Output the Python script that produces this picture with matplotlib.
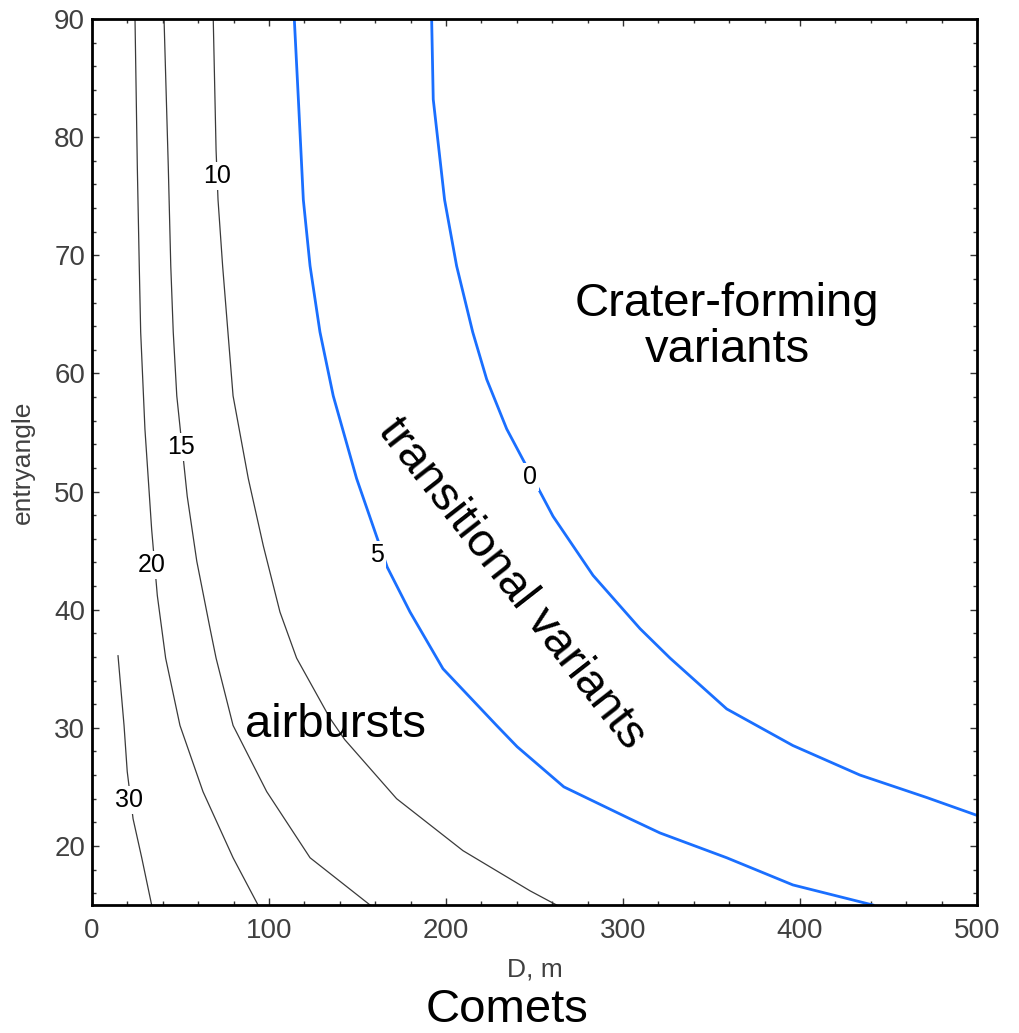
import matplotlib
matplotlib.use("Agg")
import matplotlib.pyplot as plt
from matplotlib.ticker import MultipleLocator

plt.rcParams['font.family'] = ['Liberation Sans', 'DejaVu Sans']

# Contour lines: (D in m, entry angle in deg)
c30_D = [14.7, 18.1, 19.9, 23.2, 28.1, 33.7]
c30_a = [36.1, 30.2, 26.3, 22.3, 19.0, 15.0]

c20_D = [24.3, 25.6, 26.7, 27.5, 29.9, 33.7, 36.9, 41.6, 49.7, 62.7, 79.7, 93.8]
c20_a = [90.0, 77.5, 69.1, 63.5, 55.3, 46.8, 41.2, 35.9, 30.2, 24.6, 19.0, 15.0]

c15_D = [40.7, 43.1, 44.5, 45.9, 47.9, 53.8, 59.2, 66.7, 70.1, 79.7, 98.7, 123.2, 157.1]
c15_a = [90.0, 77.5, 69.1, 63.5, 58.1, 49.6, 44.1, 38.4, 35.9, 30.2, 24.6, 19.0, 15.0]

c10_D = [68.5, 70.1, 71.2, 73.8, 76.8, 79.7, 88.3, 96.8, 106.2, 115.6, 134.5, 142.8, 172.1, 209.6, 247.5, 262.5]
c10_a = [90.0, 78.9, 74.7, 69.1, 63.5, 58.1, 51.1, 45.4, 39.8, 35.9, 30.8, 29.0, 24.0, 19.6, 16.2, 15.0]

c5_D = [114.3, 116.6, 119.4, 123.2, 128.8, 136.3, 149.5, 166.8, 179.7, 198.3, 228.6, 240.2, 266.6, 303.9, 320.9, 358.6, 396.0, 441.2]
c5_a = [90.0, 83.2, 74.7, 69.1, 63.5, 58.1, 51.1, 43.6, 39.8, 35.0, 30.2, 28.4, 25.0, 22.3, 21.1, 19.0, 16.7, 15.0]

c0_D = [191.9, 192.8, 199.2, 206.0, 215.1, 223.0, 234.3, 260.5, 283.1, 309.6, 326.6, 358.6, 396.0, 433.9, 471.6, 499.8]
c0_a = [90.0, 83.2, 74.7, 69.1, 63.5, 59.5, 55.3, 47.9, 42.9, 38.4, 35.9, 31.6, 28.5, 26.0, 24.1, 22.6]

# Contour label texts and their positions
level_labels = ["30", "20", "15", "10", "5", "0"]
label_D = [20.9, 33.9, 50.3, 70.6, 161.0, 247.5]
label_a = [23.9, 43.8, 53.8, 76.7, 44.6, 51.2]

x_ticks = [0, 100, 200, 300, 400, 500]
y_ticks = [20, 30, 40, 50, 60, 70, 80, 90]

BLUE = '#1a6fff'
GREY = '#3a3a3a'

fig = plt.figure(figsize=(10.2, 10.33), dpi=100)
ax = fig.add_axes([0.0902, 0.1239, 0.8676, 0.8577])

black_lines = [(c30_D, c30_a), (c20_D, c20_a), (c15_D, c15_a), (c10_D, c10_a)]
for xd, yd in black_lines:
    ax.plot(xd, yd, color=GREY, lw=0.9, solid_joinstyle='round')
for xd, yd in [(c5_D, c5_a), (c0_D, c0_a)]:
    ax.plot(xd, yd, color=BLUE, lw=2.0, solid_joinstyle='round')

for t, xd, yd in zip(level_labels, label_D, label_a):
    ax.text(xd, yd, t, fontsize=18, ha='center', va='center', color='black',
            bbox=dict(facecolor='white', edgecolor='none', pad=1.5), zorder=5)

ax.text(358.8, 63.9, "Crater-forming\nvariants", fontsize=34, ha='center', va='center',
        linespacing=1.05)
ax.text(237.3, 42.2, "transitional variants", fontsize=34, ha='center', va='center',
        rotation=-52, rotation_mode='anchor')
ax.text(137.3, 30.2, "airbursts", fontsize=34, ha='center', va='center')

ax.set_xlim(0, 500)
ax.set_ylim(15, 90)
ax.set_xticks(x_ticks)
ax.set_yticks(y_ticks)
ax.xaxis.set_minor_locator(MultipleLocator(20))
ax.yaxis.set_minor_locator(MultipleLocator(2))
ax.tick_params(which='both', direction='in', top=True, right=True, width=1.0,
               color='#333333', labelcolor='#404040', labelsize=20)
ax.tick_params(which='major', length=5)
ax.tick_params(which='minor', length=3)
ax.tick_params(axis='x', pad=9)
ax.tick_params(axis='y', pad=5)
for s in ax.spines.values():
    s.set_linewidth(2.0)
    s.set_color('black')

ax.set_xlabel("D, m", fontsize=19, color='#404040', labelpad=10)
ax.set_ylabel("entryangle", fontsize=19, color='#404040', labelpad=14)

fig.text(507 / 1020, 1 - 1010 / 1033, "Comets", fontsize=34, ha='center', va='center')

fig.savefig("out.png", dpi=100, facecolor='white')
